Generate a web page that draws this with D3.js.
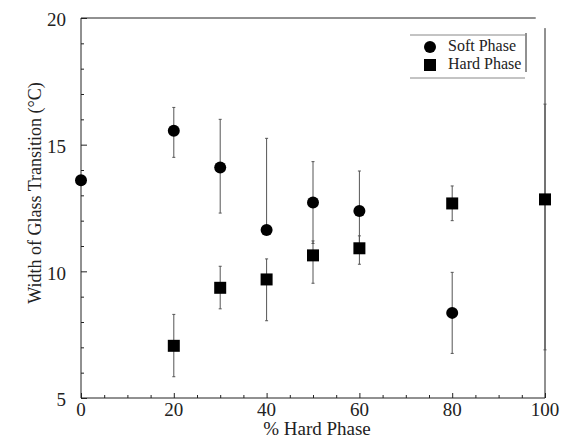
<!DOCTYPE html>
<html>
<head>
<meta charset="utf-8">
<script src="https://cdn.jsdelivr.net/npm/d3@7"></script>
<style>
  html, body { margin: 0; padding: 0; background: #fff; }
  svg text { font-family: "Liberation Serif", "DejaVu Serif", serif; }
</style>
</head>
<body>
<svg id="chart" width="561" height="440"></svg>
<script>
// Composition (% hard phase) on the x axis
const softX = [0, 20, 30, 40, 50, 60, 80];
const softY = [13.6, 15.55, 14.1, 11.63, 12.72, 12.38, 8.36];
const softHi = [13.6, 16.47, 16.0, 15.25, 14.33, 13.96, 9.96];
const softLo = [13.6, 14.5, 12.3, 11.5, 11.1, 11.0, 6.76];

const hardX = [20, 30, 40, 50, 60, 80, 100];
const hardY = [7.06, 9.35, 9.68, 10.63, 10.91, 12.68, 12.84];
const hardHi = [8.3, 10.2, 10.49, 11.2, 11.4, 13.37, 16.6];
const hardLo = [5.84, 8.52, 8.05, 9.53, 10.28, 12.0, 6.9];

const xTicks = [0, 20, 40, 60, 80, 100];
const yTicks = [5, 10, 15, 20];
const seriesNames = ["Soft Phase", "Hard Phase"];

const FONT = "Liberation Serif";
const svg = d3.select("#chart");
const margin = { left: 81, right: 16, top: 18, bottom: 42 };
const W = 561, H = 440;

const x = d3.scaleLinear().domain([0, 100]).range([margin.left, W - margin.right]);
const y = d3.scaleLinear().domain([5, 20]).range([H - margin.bottom, margin.top]);

const ink = "#222";

// Frame
const frame = svg.append("g").attr("stroke", ink).attr("stroke-width", 1).attr("fill", "none");
frame.append("line").attr("x1", x(0)).attr("x2", x(0)).attr("y1", y(5)).attr("y2", y(20));
frame.append("line").attr("x1", x(0)).attr("x2", x(100)).attr("y1", y(5)).attr("y2", y(5));
frame.append("line").attr("x1", x(0)).attr("x2", x(98)).attr("y1", y(20)).attr("y2", y(20));
frame.append("line").attr("x1", x(100)).attr("x2", x(100)).attr("y1", y(5)).attr("y2", y(19.6));

// Inward ticks on the left axis (every 1, longer at multiples of 5)
const yAxis = d3.axisRight(y)
  .tickValues(d3.range(5, 20.01, 1))
  .tickSize(0)
  .tickFormat("");
const yg = svg.append("g").attr("transform", `translate(${x(0)},0)`).call(yAxis);
yg.select(".domain").remove();
yg.selectAll(".tick line")
  .attr("x2", d => (d % 5 === 0 ? 6 : 3))
  .attr("stroke", ink);

// Inward ticks on the bottom axis (every 5, longer at multiples of 20)
const xAxis = d3.axisTop(x)
  .tickValues(d3.range(0, 100.01, 5))
  .tickSize(0)
  .tickFormat("");
const xg = svg.append("g").attr("transform", `translate(0,${y(5)})`).call(xAxis);
xg.select(".domain").remove();
xg.selectAll(".tick line")
  .attr("y2", d => (d % 20 === 0 ? -5 : -3))
  .attr("stroke", ink);

// Tick labels
svg.append("g").selectAll("text").data(xTicks).join("text")
  .attr("x", d => x(d)).attr("y", 416)
  .attr("text-anchor", "middle")
  .attr("font-family", FONT)
  .attr("font-size", 19).attr("fill", ink)
  .text(d => d);

svg.append("g").selectAll("text").data(yTicks).join("text")
  .attr("x", 66).attr("y", d => y(d) + 4)
  .attr("text-anchor", "end").attr("dominant-baseline", "middle")
  .attr("font-family", FONT)
  .attr("font-size", 19).attr("fill", ink)
  .text(d => d);

// Axis titles
svg.append("text")
  .attr("x", 317).attr("y", 435)
  .attr("text-anchor", "middle")
  .attr("font-family", FONT)
  .attr("font-size", 19).attr("fill", ink)
  .text("% Hard Phase");

svg.append("text")
  .attr("transform", "translate(41,193) rotate(-90)")
  .attr("text-anchor", "middle")
  .attr("font-family", FONT)
  .attr("font-size", 18).attr("fill", ink)
  .text("Width of Glass Transition (°C)");

// Error bars
function errorBars(xs, lo, hi, color) {
  const g = svg.append("g").attr("stroke", color).attr("stroke-width", 1);
  g.selectAll("line.bar").data(xs).join("line").attr("class", "bar")
    .attr("x1", d => x(d)).attr("x2", d => x(d))
    .attr("y1", (d, i) => y(lo[i])).attr("y2", (d, i) => y(hi[i]));
  g.selectAll("line.capHi").data(xs).join("line").attr("class", "capHi")
    .attr("x1", d => x(d) - 1.5).attr("x2", d => x(d) + 1.5)
    .attr("y1", (d, i) => y(hi[i])).attr("y2", (d, i) => y(hi[i]));
  g.selectAll("line.capLo").data(xs).join("line").attr("class", "capLo")
    .attr("x1", d => x(d) - 1.5).attr("x2", d => x(d) + 1.5)
    .attr("y1", (d, i) => y(lo[i])).attr("y2", (d, i) => y(lo[i]));
}
errorBars(softX, softLo, softHi, "#555");
errorBars(hardX, hardLo, hardHi, "#555");

// Markers
const circle = d3.symbol().type(d3.symbolCircle).size(Math.PI * 6 * 6);
const square = d3.symbol().type(d3.symbolSquare).size(12 * 12);

svg.append("g").selectAll("path").data(softX).join("path")
  .attr("d", circle)
  .attr("transform", (d, i) => `translate(${x(d)},${y(softY[i])})`)
  .attr("fill", "#000");

svg.append("g").selectAll("path").data(hardX).join("path")
  .attr("d", square)
  .attr("transform", (d, i) => `translate(${x(d)},${y(hardY[i])})`)
  .attr("fill", "#000");

// Legend
const lg = svg.append("g");
lg.append("line").attr("x1", 410).attr("x2", 525).attr("y1", 35).attr("y2", 35).attr("stroke", "#888");
lg.append("line").attr("x1", 410).attr("x2", 525).attr("y1", 78).attr("y2", 78).attr("stroke", "#888");
lg.append("line").attr("x1", 526).attr("x2", 526).attr("y1", 33).attr("y2", 72).attr("stroke", ink);
lg.append("path").attr("d", circle).attr("transform", "translate(430,47)").attr("fill", "#000");
lg.append("path").attr("d", square).attr("transform", "translate(430,65)").attr("fill", "#000");
lg.selectAll("text").data(seriesNames).join("text")
  .attr("x", 448).attr("y", (d, i) => 47 + i * 18)
  .attr("dominant-baseline", "middle")
  .attr("font-family", FONT)
  .attr("font-size", 16).attr("fill", ink)
  .text(d => d);
</script>
</body>
</html>
